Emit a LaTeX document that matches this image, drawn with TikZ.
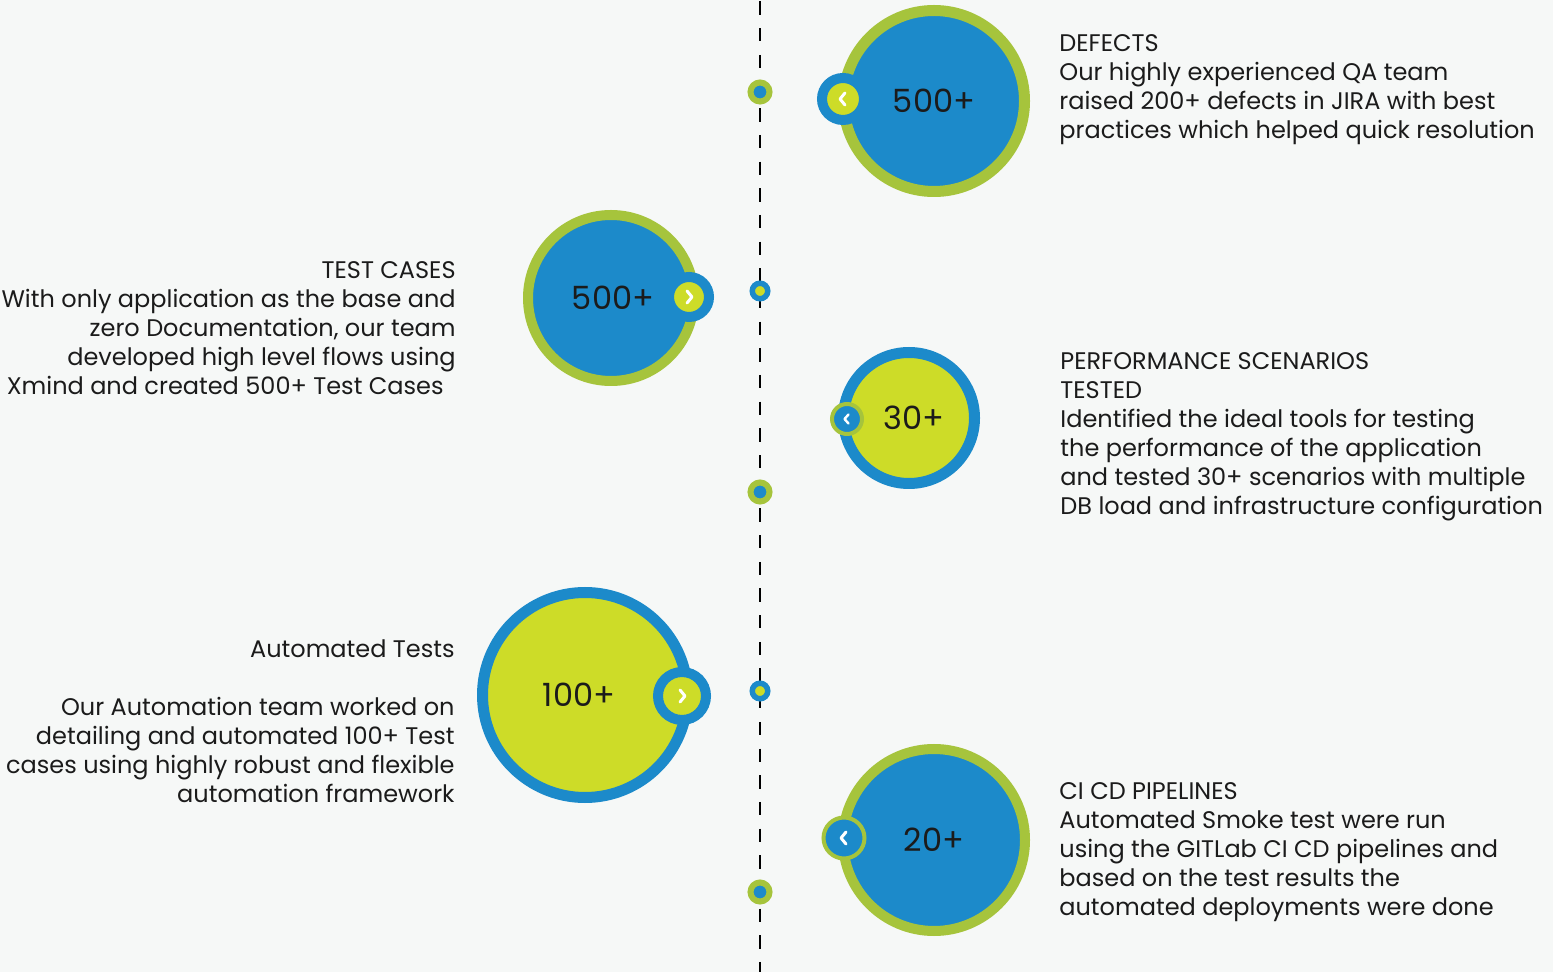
\documentclass[tikz,border=0pt]{standalone}
\usepackage{fontspec}
\setmainfont{Poppins}
\usetikzlibrary{calc}

\definecolor{pagebg}{HTML}{F6F8F7}
\definecolor{qablue}{HTML}{1C8ACA}
\definecolor{qagreen}{HTML}{A6C43C}
\definecolor{qalime}{HTML}{CDDC28}
\definecolor{qaink}{HTML}{1B1B1B}

\tikzset{
  bubble/.style={circle, inner sep=0pt, text=qaink, font=\fontsize{16}{19}\selectfont},
  tab/.style={circle, inner sep=0pt},
  stop/.style={circle, inner sep=0pt},
  chev/.style={draw=white, line width=1.5pt, line cap=round, line join=round},
  blurb/.style={inner sep=0pt, text=qaink, font=\fontsize{12}{14.5}\selectfont},
}

\begin{document}
\begin{tikzpicture}[x=0.5pt, y=-0.5pt]
  \fill[pagebg] (0,0) rectangle (1553,972);
  \useasboundingbox (0,0) rectangle (1553,972);

  % timeline
  \coordinate (top) at (760,0);
  \coordinate (bot) at (760,972);
  \draw[black, line width=1.3pt, dash pattern=on 6.67pt off 6.67pt, dash phase=12.6pt] (top) -- (bot);

  % stops on the timeline
  \node[stop, fill=qablue, draw=qagreen, line width=3pt, minimum size=9.5pt] (s1) at (760,92) {};
  \node[stop, fill=qalime, draw=qablue, line width=2.75pt, minimum size=7.75pt] (s2) at (760,291) {};
  \node[stop, fill=qablue, draw=qagreen, line width=3pt, minimum size=9.5pt] (s3) at (760,492) {};
  \node[stop, fill=qalime, draw=qablue, line width=2.75pt, minimum size=7.75pt] (s4) at (760,691) {};
  \node[stop, fill=qablue, draw=qagreen, line width=3pt, minimum size=9.5pt] (s5) at (760,892) {};

  % defects
  \node[bubble, fill=qablue, draw=qagreen, line width=5.5pt, minimum size=90.5pt] (defects) at (934,101) {500+};
  \node[tab, fill=qalime, draw=qablue, line width=5pt, minimum size=21pt] (t1) at (843,99) {};
  \draw[chev] ($(t1)+(2,-6)$) -- ++(-5,6) -- ++(5,6);

  % test cases
  \node[bubble, fill=qablue, draw=qagreen, line width=5pt, minimum size=83pt] (tests) at (611,298) {\kern2pt 500+};
  \node[tab, fill=qalime, draw=qablue, line width=5pt, minimum size=20pt] (t2) at (689,297) {};
  \draw[chev] ($(t2)+(-2,-6)$) -- ++(5,6) -- ++(-5,6);

  % performance
  \node[bubble, fill=qalime, draw=qablue, line width=5.5pt, minimum size=65.5pt] (perf) at (909,418) {\kern5pt 30+};
  \node[tab, fill=qablue, draw=qagreen, line width=2pt, minimum size=15pt] (t3) at (847,419) {};
  \draw[chev, line width=1.2pt] ($(t3)+(1.5,-4.5)$) -- ++(-4,4.5) -- ++(4,4.5);

  % automation
  \node[bubble, fill=qalime, draw=qablue, line width=5.5pt, minimum size=102.5pt] (auto) at (585,695) {100+\kern6pt};
  \node[tab, fill=qalime, draw=qablue, line width=5pt, minimum size=24pt] (t4) at (682,696) {};
  \draw[chev] ($(t4)+(-2,-6)$) -- ++(5,6) -- ++(-5,6);

  % ci cd
  \node[bubble, fill=qablue, draw=qagreen, line width=5pt, minimum size=91pt] (cicd) at (934,840) {20+};
  \node[tab, fill=qablue, draw=qagreen, line width=2pt, minimum size=20.5pt] (t5) at (844,838) {};
  \draw[chev] ($(t5)+(2,-6)$) -- ++(-5,6) -- ++(5,6);

  % descriptions
  \node[blurb, anchor=north west, align=left] (defectsnote) at (1059,34)
    {DEFECTS\\Our highly experienced QA team\\raised 200+ defects in JIRA with best\\practices which helped quick resolution};
  \node[blurb, anchor=north east, align=right] (testsnote) at (456,261)
    {TEST CASES\\With only application as the base and\\zero Documentation, our team\\developed high level flows using\\Xmind and created 500+ Test Cases\kern6pt};
  \node[blurb, anchor=north west, align=left] (perfnote) at (1060,352)
    {PERFORMANCE SCENARIOS\\TESTED\\Identified the ideal tools for testing\\the performance of the application\\and tested 30+ scenarios with multiple\\DB load and infrastructure configuration};
  \node[blurb, anchor=north east, align=right] (autonote) at (455,639)
    {Automated Tests\\[14.5pt]Our Automation team worked on\\detailing and automated 100+ Test\\cases using highly robust and flexible\\automation framework};
  \node[blurb, anchor=north west, align=left] (cicdnote) at (1059,782)
    {CI CD PIPELINES\\Automated Smoke test were run\\using the GITLab CI CD pipelines and\\based on the test results the\\automated deployments were done};
\end{tikzpicture}
\end{document}
